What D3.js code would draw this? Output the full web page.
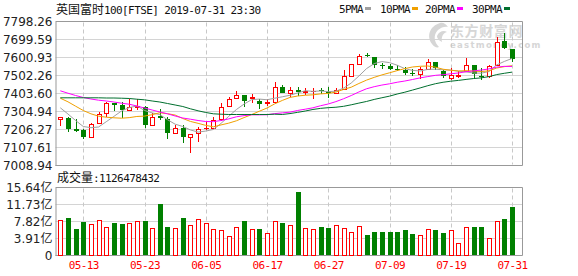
<!DOCTYPE html>
<html><head><meta charset="utf-8">
<script src="https://cdn.jsdelivr.net/npm/d3@7"></script>
<style>body{margin:0;background:#fff}svg{display:block}</style>
</head><body><svg id="c" width="578" height="276"></svg>
<script>
const dates = ["05-08","05-09","05-10","05-13","05-14","05-15","05-16","05-17","05-20","05-21","05-22","05-23","05-24","05-28","05-29","05-30","05-31","06-03","06-04","06-05","06-06","06-07","06-10","06-11","06-12","06-13","06-14","06-17","06-18","06-19","06-20","06-21","06-24","06-25","06-26","06-27","06-28","07-01","07-02","07-03","07-04","07-05","07-08","07-09","07-10","07-11","07-12","07-15","07-16","07-17","07-18","07-19","07-22","07-23","07-24","07-25","07-26","07-29","07-30","07-31"];
const open = [7264.9,7272.0,7206.3,7200.8,7167.9,7240.8,7297.8,7348.8,7343.3,7314.3,
7332.3,7332.3,7232.0,7281.4,7264.9,7188.2,7215.6,7164.1,7186.0,7211.8,
7215.6,7262.7,7336.2,7380.0,7398.1,7376.2,7365.2,7350.4,7355.9,7438.1,
7407.4,7423.9,7410.7,7414.6,7422.8,7410.7,7407.4,7429.3,7498.4,7564.2,
7614.6,7606.4,7557.1,7553.3,7540.6,7533.5,7515.9,7511.6,7539.0,7579.0,
7524.2,7491.3,7502.2,7525.8,7557.1,7502.2,7496.8,7557.1,7690.3,7648.6];
const high = [7274.8,7275.0,7264.9,7206.3,7240.8,7304.9,7359.7,7352.6,7359.7,7374.5,
7370.8,7337.8,7297.8,7315.9,7273.7,7228.2,7228.2,7182.7,7222.7,7255.6,
7273.7,7350.4,7383.3,7420.0,7398.1,7401.9,7370.8,7374.5,7465.5,7452.9,
7441.9,7438.1,7434.8,7434.8,7434.8,7441.9,7434.8,7529.7,7565.0,7621.2,
7628.0,7606.4,7571.9,7562.6,7560.9,7547.8,7535.2,7547.8,7593.8,7579.0,
7532.0,7542.3,7525.8,7599.3,7557.1,7542.3,7560.9,7716.0,7736.3,7648.6];
const low = [7224.4,7191.5,7191.5,7155.3,7162.4,7236.4,7273.7,7306.6,7268.2,7312.0,
7314.3,7213.4,7231.0,7261.0,7155.3,7182.7,7131.2,7076.4,7136.7,7200.8,
7214.0,7255.6,7335.0,7380.0,7328.5,7350.4,7319.7,7337.8,7354.0,7404.0,
7383.3,7392.6,7398.1,7374.5,7401.9,7380.0,7406.0,7428.0,7496.8,7562.6,
7601.0,7544.5,7539.0,7529.7,7524.2,7506.1,7498.4,7484.2,7538.0,7533.5,
7487.5,7474.9,7487.5,7524.2,7484.2,7474.9,7489.6,7554.0,7648.6,7579.0];
const close = [7273.7,7207.9,7198.1,7164.1,7237.5,7292.3,7352.6,7343.3,7314.3,7328.5,
7337.8,7228.2,7277.5,7268.2,7188.2,7215.6,7164.1,7182.7,7210.1,7215.6,
7259.4,7332.3,7374.5,7396.5,7365.2,7381.7,7347.1,7355.9,7438.1,7405.2,
7423.9,7410.7,7416.2,7420.0,7417.3,7405.2,7423.9,7496.8,7562.6,7608.0,
7609.1,7560.9,7551.6,7535.2,7536.8,7514.8,7513.2,7535.2,7579.0,7542.3,
7496.8,7506.1,7507.7,7557.1,7511.6,7492.9,7551.6,7688.6,7651.9,7593.8];
// volume in 亿 (1e8)
const volume = [8.17,8.70,6.18,7.79,7.33,8.17,6.64,7.56,7.33,7.56,
7.94,8.01,6.41,11.75,6.64,6.41,8.70,7.10,8.40,7.56,
6.11,5.88,4.51,6.57,8.01,6.11,6.18,5.27,7.94,7.56,
7.03,14.66,6.34,6.11,6.64,6.41,7.10,6.41,5.50,6.80,
4.81,5.50,5.50,5.50,5.50,5.95,5.04,4.81,6.11,5.95,
5.27,5.88,2.98,6.57,6.64,6.64,4.05,7.94,8.47,11.26];
// moving-average values read from the chart where earlier history is not shown
const ma5Head = [7325.2,7291.2,7255.6,7222.7];
const ma10Head = [7377.8,7358.1,7334.0,7310.4,7292.3,7279.2,7273.7,7270.4,7268.2];
const ma20Head = [7418.4,7405.2,7392.6,7381.7,7373.4,7366.9,7362.5,7357.0,7350.4,7344.9,7335.1,7324.1,7313.1,7302.2,7292.3,7280.3,7269.3,7262.7,7255.6];
const ma30Head = [7380.0,7380.0,7380.0,7380.0,7380.0,7380.0,7378.9,7378.9,7377.8,7376.2,7372.3,7369.0,7362.5,7357.0,7348.8,7340.6,7332.3,7319.7,7308.8,7299.5,7292.3,7290.1,7288.5,7288.5,7288.5,7288.5,7288.5,7288.5,7290.1];
const priceTicks = [7008.94,7107.61,7206.27,7304.94,7403.60,7502.26,7600.93,7699.59,7798.26];
const volTicks = [0,3.91,7.82,11.73,15.64];
const xTickLabels = ["05-13","05-23","06-05","06-17","06-27","07-09","07-19","07-31"];
const maNames = ["5PMA","10PMA","20PMA","30PMA"];
const titleCn = "英国富时";
const titleRest = "100[FTSE] 2019-07-31 23:30";
const volLabelCn = "成交量";
const volLabelRest = ":1126478432";

const RED = "#ff0000", GREEN = "#008000";
const maColors = ["#a0a0a0","#f0a000","#ff00ff","#006f2e"];
const GRID = "#d4d4d4", BORDER = "#999";
const L = 55.5, R = 522.5, PT = 21.5, PB = 165.5, VT = 187.5, VB = 255.5;

const svg = d3.select("#c");
const x = d3.scalePoint().domain(dates).range([60.3, 512]);
const y = d3.scaleLinear().domain([7008.94, 7798.26]).range([PB, PT]);
const yv = d3.scaleLinear().domain([0, 15.64]).range([VB, VT]);

// watermark
const wm = svg.append("g").attr("fill", "#d6d6d6");
wm.append("path").attr("d","M440,23 C430,26 426,36 432,44 C434,47 437,48 439,47 C434,42 433,35 438,30 C441,27 446,26 448,27 C446,24 443,22 440,23 Z");
wm.append("path").attr("d","M437,36 C439,31 444,30 447,32 C443,33 441,37 442,42 C440,41 437,39 437,36 Z");
wm.append("text").attr("x", 450).attr("y", 35.5).attr("font-family","Noto Sans CJK SC").attr("font-size", 14).attr("font-weight","bold").attr("letter-spacing", 0.6).text("东方财富网");
wm.append("text").attr("x", 450).attr("y", 48).attr("font-family","DejaVu Sans").attr("font-size", 8.5).attr("font-weight","bold").attr("letter-spacing", 1.3).text("eastmoney.com");

// horizontal grid
const grid = svg.append("g");
priceTicks.forEach((t, i) => {
  grid.append("line").attr("x1", L).attr("x2", R).attr("y1", y(t)).attr("y2", y(t))
    .attr("stroke", (i === 0 || i === priceTicks.length - 1) ? BORDER : GRID);
});
volTicks.forEach((t, i) => {
  grid.append("line").attr("x1", L).attr("x2", R).attr("y1", yv(t)).attr("y2", yv(t))
    .attr("stroke", (i === 0 || i === volTicks.length - 1) ? BORDER : GRID);
});
// vertical dashed grid
xTickLabels.forEach(d => {
  const px = Math.round(x(d)) + 0.5;
  [[PT, PB], [VT, VB]].forEach(([a, b]) => {
    grid.append("line").attr("x1", px).attr("x2", px).attr("y1", a + 1).attr("y2", b - 1)
      .attr("stroke", "#c8c8c8").attr("stroke-dasharray", "4,3");
  });
});
// right borders
[[PT, PB], [VT, VB]].forEach(([a, b]) => {
  grid.append("line").attr("x1", R).attr("x2", R).attr("y1", a).attr("y2", b).attr("stroke", BORDER);
});

// axes
const fmtV = d => d === 0 ? "0" : d.toFixed(2) + "亿";
const ax1 = svg.append("g").attr("transform", `translate(${L},0)`)
  .call(d3.axisLeft(y).tickValues(priceTicks).tickFormat(d3.format(".2f")).tickSize(0).tickPadding(3));
const ax2 = svg.append("g").attr("transform", `translate(${L},0)`)
  .call(d3.axisLeft(yv).tickValues(volTicks).tickFormat(fmtV).tickSize(0).tickPadding(3));
[ax1, ax2].forEach(a => {
  a.select(".domain").attr("stroke", BORDER);
  a.selectAll("text").attr("font-family", "DejaVu Sans, Noto Sans CJK SC").attr("font-size", 12).attr("fill", "#222");
});
const ax3 = svg.append("g").attr("transform", `translate(0,${VB})`)
  .call(d3.axisBottom(x).tickValues(xTickLabels).tickSize(0).tickPadding(6));
ax3.select(".domain").remove();
ax3.selectAll("text").attr("font-family", "DejaVu Sans Mono").attr("font-size", 11)
  .attr("letter-spacing", -0.6).attr("fill", RED);

// candles
const cg = svg.append("g");
dates.forEach((d, i) => {
  const px = Math.round(x(d));
  const o = open[i], c = close[i];
  const up = c >= o;
  const T = Math.round(y(Math.max(o, c))), B = Math.round(y(Math.min(o, c)));
  const hy = Math.round(y(high[i])), ly = Math.round(y(low[i]));
  if (up) {
    if (hy < T) cg.append("line").attr("x1", px + .5).attr("x2", px + .5).attr("y1", hy).attr("y2", T).attr("stroke", RED);
    if (ly > B) cg.append("line").attr("x1", px + .5).attr("x2", px + .5).attr("y1", B + 1).attr("y2", ly).attr("stroke", RED);
    if (B - T < 1) cg.append("rect").attr("x", px - 2).attr("y", T).attr("width", 5).attr("height", 1).attr("fill", RED);
    else cg.append("rect").attr("x", px - 1.5).attr("y", T + .5).attr("width", 4).attr("height", B - T).attr("fill", "#fff").attr("stroke", RED);
  } else {
    cg.append("line").attr("x1", px + .5).attr("x2", px + .5).attr("y1", hy).attr("y2", ly).attr("stroke", GREEN);
    cg.append("rect").attr("x", px - 2).attr("y", T).attr("width", 5).attr("height", Math.max(B - T, 1)).attr("fill", GREEN);
  }
  // volume
  const vt = Math.round(yv(volume[i]));
  const vb = Math.round(VB - .5);
  if (up) cg.append("rect").attr("x", px - 1.5).attr("y", vt + .5).attr("width", 4).attr("height", vb - vt).attr("fill", "#fff").attr("stroke", RED);
  else cg.append("rect").attr("x", px - 2).attr("y", vt).attr("width", 5).attr("height", vb - vt).attr("fill", GREEN);
});

// moving averages
const ma = (n, head) => close.map((c, i) => i < n - 1 ? head[i] : d3.mean(close.slice(i - n + 1, i + 1)));
const maSeries = [ma(5, ma5Head), ma(10, ma10Head), ma(20, ma20Head), ma(30, ma30Head)];
const line = d3.line().x((v, i) => x(dates[i])).y(v => y(v));
maSeries.forEach((s, k) => {
  svg.append("path").attr("d", line(s)).attr("fill", "none").attr("stroke", maColors[k]).attr("stroke-width", 1);
});

// title
const title = svg.append("text").attr("x", 56).attr("y", 13.5).attr("fill", "#111");
title.append("tspan").attr("font-family", "Noto Sans CJK SC").attr("font-size", 12).text(titleCn);
title.append("tspan").attr("font-family", "DejaVu Sans Mono").attr("font-size", 11).attr("letter-spacing", -0.6).text(titleRest);

// legend
const legStarts = [339, 380, 425, 472];
maNames.forEach((n, k) => {
  svg.append("text").attr("x", legStarts[k]).attr("y", 13).attr("font-family", "DejaVu Sans Mono")
    .attr("font-size", 11).attr("letter-spacing", -0.6).attr("fill", "#111").text(n);
  svg.append("rect").attr("x", legStarts[k] + n.length * 6 + 2).attr("y", 7).attr("width", 6).attr("height", 3).attr("fill", maColors[k]);
});

// volume label
const vl = svg.append("text").attr("x", 57).attr("y", 181.5).attr("fill", "#111");
vl.append("tspan").attr("font-family", "Noto Sans CJK SC").attr("font-size", 12).text(volLabelCn);
vl.append("tspan").attr("font-family", "DejaVu Sans Mono").attr("font-size", 11).attr("letter-spacing", -0.6).text(volLabelRest);
</script>
</body></html>
